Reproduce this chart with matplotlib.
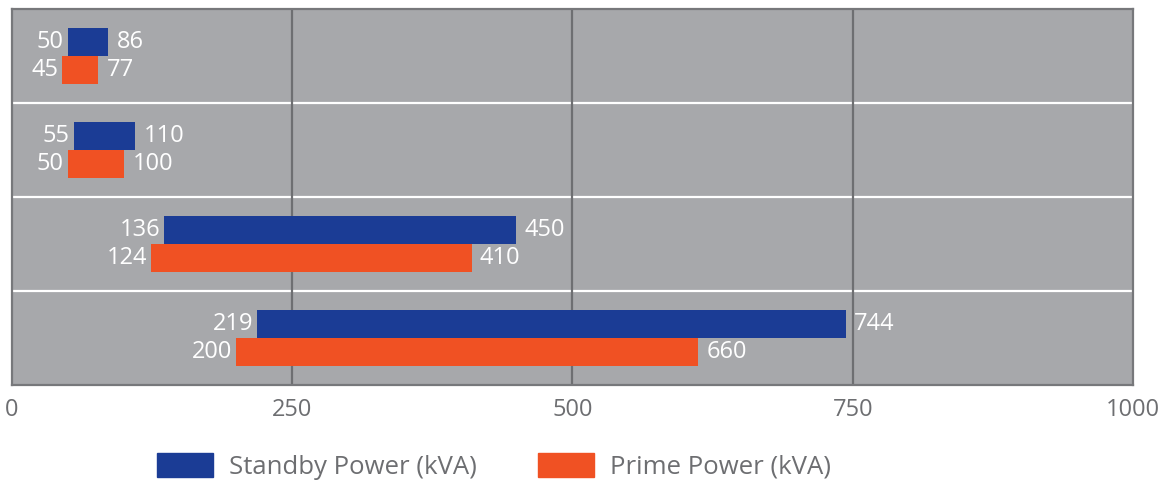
import matplotlib.pyplot as plt
from matplotlib.patches import Patch

plt.rcParams['font.family'] = ['Open Sans', 'DejaVu Sans']

# data, groups from top to bottom
standby_start = [50, 55, 136, 219]
standby_end = [86, 110, 450, 744]
prime_start = [45, 50, 124, 200]
prime_end = [77, 100, 410, 660]
# the last prime bar is drawn shorter than its label in the source picture
prime_bar_end = [77, 100, 410, 612]
ticks = [0, 250, 500, 750, 1000]

blue = '#1b3c95'
orange = '#f05123'
bg = '#a7a8ab'
grid = '#6e6f72'
txt = '#6d6e71'
fs = 17

fig = plt.figure(figsize=(11.76, 4.82), dpi=100)
ax = fig.add_axes([0.0102, 0.2012, 0.9532, 0.7801])
ax.set_facecolor(bg)

n = len(standby_start)
centers = [n - 0.5 - i for i in range(n)]
h = 0.3

for i in range(n):
    yb = centers[i] + h / 2
    yo = centers[i] - h / 2
    ax.barh(yb, standby_end[i] - standby_start[i], left=standby_start[i],
            height=h, color=blue, zorder=3)
    ax.barh(yo, prime_bar_end[i] - prime_start[i], left=prime_start[i],
            height=h, color=orange, zorder=3)
    for y, s, e, be in [(yb, standby_start[i], standby_end[i], standby_end[i]),
                        (yo, prime_start[i], prime_end[i], prime_bar_end[i])]:
        ax.annotate(str(s), (s, y), xytext=(-3, 0), textcoords='offset points',
                    ha='right', va='center', color='white', fontsize=fs, zorder=4)
        ax.annotate(str(e), (be, y), xytext=(6, 0), textcoords='offset points',
                    ha='left', va='center', color='white', fontsize=fs, zorder=4)

for y in range(1, n):
    ax.axhline(y, color='white', lw=1.6, zorder=2)
for x in ticks[1:-1]:
    ax.axvline(x, color=grid, lw=1.6, zorder=2)

ax.set_xlim(0, 1000)
ax.set_ylim(0, n)
ax.set_xticks(ticks)
ax.set_yticks([])
ax.tick_params(axis='x', length=0, pad=9, labelsize=fs, labelcolor=txt)
for sp in ax.spines.values():
    sp.set_color('#77787b')
    sp.set_linewidth(1.6)

handles = [Patch(color=blue, label='Standby Power (kVA)'),
           Patch(color=orange, label='Prime Power (kVA)')]
leg = fig.legend(handles=handles, loc='center', bbox_to_anchor=(0.42, 0.033),
                 ncol=2, frameon=False, fontsize=18.5, handlelength=2.18,
                 handleheight=1.09, columnspacing=2.4, handletextpad=0.62,
                 borderpad=0)
for t in leg.get_texts():
    t.set_color(txt)

fig.savefig('out.png', dpi=100)
